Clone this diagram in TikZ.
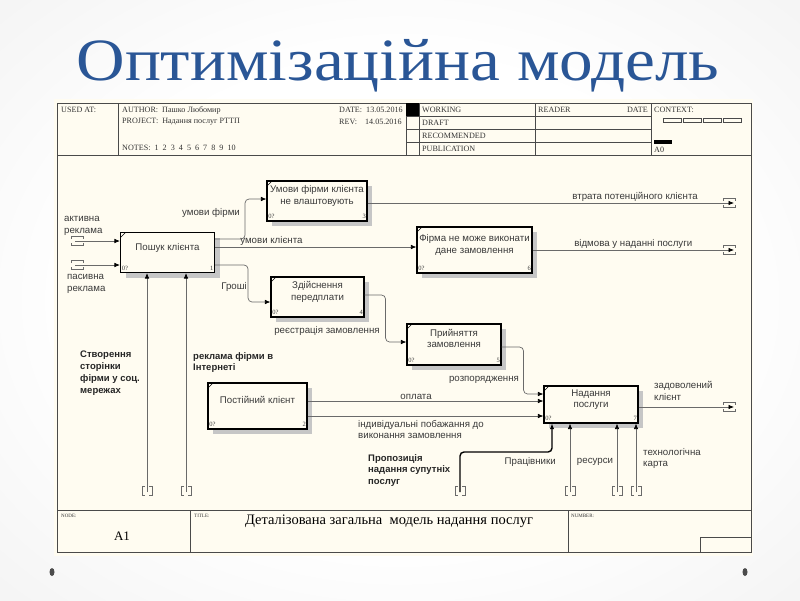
\documentclass[tikz,border=0pt]{standalone}
\usepackage{fontspec}
\setmainfont{Liberation Serif}
\setsansfont{Liberation Sans}
\usetikzlibrary{arrows.meta,shadows}

\definecolor{titleblue}{HTML}{2A5696}
\definecolor{cream}{HTML}{FFFCF1}
\definecolor{ink}{HTML}{3A3A3A}
\definecolor{wire}{HTML}{6A6A6A}
\definecolor{rule}{HTML}{4A4A4A}
\pgfdeclareradialshading{slidebg}{\pgfpoint{0bp}{0bp}}{color(0bp)=(white); color(20bp)=(white); color(50bp)=(gray!16); color(72bp)=(gray!24)}

\begin{document}
\begin{tikzpicture}[
    x=1pt,y=-1pt,
    box/.style={draw=black,line width=1.1pt,fill=cream,align=center,text=ink,
                font=\sffamily\fontsize{9.7}{11.5}\selectfont,inner xsep=0pt,
                text depth=12pt,
                drop shadow={shadow xshift=5pt,shadow yshift=-5pt,fill=gray!45,opacity=1},
                path picture={\draw[line width=0.6pt]
                  ([yshift=-5pt]path picture bounding box.north west) --
                  ([xshift=5pt]path picture bounding box.north west);},
                label={[tag,anchor=south west]south west:0?}},
    num/.style={label={[tag,anchor=south east]south east:#1}},
    tag/.style={font=\fontsize{6.5}{7}\selectfont,text=ink,inner sep=1.6pt,
                text height=4.5pt,text depth=1pt,fill=none,draw=none},
    flow/.style={draw=wire,line width=0.7pt,rounded corners=4pt,
                 -{Latex[length=5.5pt,width=4.5pt,color=black]}},
    heavy/.style={flow,draw=black,line width=1.4pt},
    lbl/.style={font=\sffamily\fontsize{9.7}{11.5}\selectfont,text=ink,inner sep=1pt},
    note/.style={font=\sffamily\bfseries\fontsize{9.5}{11.8}\selectfont,text=black!85,
                 align=left,inner sep=0pt},
    hdr/.style={font=\fontsize{8.1}{9}\selectfont,text=black!80,anchor=west,inner sep=0pt},
    tiny/.style={hdr,font=\fontsize{5}{6}\selectfont},
    frame/.style={draw=rule,line width=0.6pt},
    htun/.pic={\draw[wire,line width=0.6pt]
        (-6pt,-2pt) -- (-6pt,-4.5pt) -- (6pt,-4.5pt) -- (6pt,-2pt)
        (-6pt,2pt) -- (-6pt,4.5pt) -- (6pt,4.5pt) -- (6pt,2pt);},
    vtun/.pic={\draw[wire,line width=0.6pt]
        (-2pt,4.5pt) -- (-5pt,4.5pt) -- (-5pt,-4.5pt) -- (-2pt,-4.5pt)
        (2pt,4.5pt) -- (5pt,4.5pt) -- (5pt,-4.5pt) -- (2pt,-4.5pt);}
]
\useasboundingbox (0,0) rectangle (800,600);
\shade[shading=slidebg] (0,0) rectangle (800,600);

% slide title
\node[font=\fontsize{60}{60}\selectfont,text=titleblue,anchor=base] (heading)
    at (398,80) {\scalebox{1.12}[1]{Оптимізаційна модель}};

% IDEF0 form
\fill[cream] (54,99) rectangle (753,556);
\draw[frame] (57,103) rectangle (751,552);
\draw[frame] (57,155) -- (751,155) (57,510) -- (751,510);
\draw[frame] (118,103) -- (118,155) (406,103) -- (406,155) (419,103) -- (419,155)
    (535,103) -- (535,155) (651,103) -- (651,155);
\draw[frame] (406,116) -- (651,116) (406,129) -- (651,129) (406,142) -- (651,142);
\fill (406,103) rectangle (419,116);
\foreach \i in {0,...,3}
    \draw[frame,line width=0.5pt] (663+20*\i,118) rectangle ++(18,4);
\fill (654,140) rectangle (672,144);
\draw[frame] (190,510) -- (190,552) (568,510) -- (568,552);
\draw[frame] (700,537) rectangle (751,552);

\node[hdr] (usedat) at (61,110) {USED AT:};
\node[hdr] (author) at (122,110) {AUTHOR:\ \ Пашко Любомир};
\node[hdr] (project) at (122,122) {PROJECT:\ \ Надання послуг РТТП};
\node[hdr] (notes) at (122,148) {NOTES:\ \ 1\ \ 2\ \ 3\ \ 4\ \ 5\ \ 6\ \ 7\ \ 8\ \ 9\ \ 10};
\node[hdr] (date) at (339,110) {DATE:\ \ 13.05.2016};
\node[hdr] (rev) at (339,122) {REV:\ \ \ \ 14.05.2016};
\node[hdr] (working) at (422,110) {WORKING};
\node[hdr] (draft) at (422,122.5) {DRAFT};
\node[hdr] (recommended) at (422,135.5) {RECOMMENDED};
\node[hdr] (publication) at (422,148.5) {PUBLICATION};
\node[hdr] (reader) at (538,110) {READER};
\node[hdr,anchor=east] (readerdate) at (648,110) {DATE};
\node[hdr] (context) at (654,110) {CONTEXT:};
\node[hdr] (parent) at (654,150) {A0};
\node[tiny] (nodelbl) at (61,516) {NODE:};
\node[font=\fontsize{13}{15}\selectfont] (nodeid) at (122,536) {A1};
\node[tiny] (titlelbl) at (194,516) {TITLE:};
\node[font=\fontsize{14.5}{16}\selectfont] (title) at (389,521)
    {Деталізована загальна\ \ модель надання послуг};
\node[tiny] (numberlbl) at (571,516) {NUMBER:};

% activities
\node[box,num=1,minimum width=94,minimum height=40] (search) at (167.5,252.5)
    {Пошук клієнта};
\node[box,num=3,minimum width=100,minimum height=40] (terms) at (317,201)
    {Умови фірми клієнта\\не влаштовують};
\node[box,num=4,minimum width=93,minimum height=40] (prepay) at (317.5,297)
    {Здійснення\\передплати};
\node[box,num=6,minimum width=115,minimum height=46] (cannot) at (474.5,250)
    {Фірма не може виконати\\дане замовлення};
\node[box,num=5,minimum width=94,minimum height=41] (accept) at (454,344.5)
    {Прийняття\\замовлення};
\node[box,num=2,minimum width=99,minimum height=46] (regular) at (257.5,406)
    {Постійний клієнт};
\node[box,num=7,minimum width=94,minimum height=37] (service) at (591,404.5)
    {Надання\\послуги};

% tunnel ends
\coordinate (activein) at (75,241);
\coordinate (passivein) at (75,265);
\coordinate (lossout) at (734,203);
\coordinate (refuseout) at (734,250);
\coordinate (doneout) at (734,407);
\coordinate (socialin) at (147,492);
\coordinate (webin) at (186,492);
\coordinate (offerin) at (460,492);
\coordinate (staffin) at (570,492);
\coordinate (resourcein) at (617,492);
\coordinate (mapin) at (636,492);
\pic at (77,241) {htun};
\pic at (77,265) {htun};
\pic at (729,203) {htun};
\pic at (729,250) {htun};
\pic at (729,407) {htun};
\foreach \x in {147,186,460,570,617,636}
    \pic at (\x,491) {vtun};

% inputs
\draw[flow] (activein) -- ([yshift=11.5pt]search.west);
\draw[flow] (passivein) -- ([yshift=-12.5pt]search.west);
\node[lbl,align=left,anchor=west] (lactive) at (63,226) {активна\\реклама};
\node[lbl,align=left,anchor=west] (lpassive) at (66,284) {пасивна\\реклама};

% flows between activities
\draw[flow] ([yshift=13.5pt]search.east) -- ++(30,0) |- ([yshift=2pt]terms.west);
\node[lbl] (lterms) at (211,213) {умови фірми};
\draw[flow] ([yshift=5.5pt]search.east) --
    node[lbl,above,pos=0.28] (lwish) {умови клієнта} ([yshift=3pt]cannot.west);
\draw[flow] ([yshift=-12.5pt]search.east) -- ++(33,0) |- ([yshift=-5pt]prepay.west);
\node[lbl] (lmoney) at (234,287) {Гроші};
\draw[flow] ([yshift=2pt]prepay.east) -- ++(21,0) |- ([yshift=2.5pt]accept.west);
\node[lbl] (lregister) at (327,331) {реєстрація замовлення};
\draw[flow] ([yshift=-2.5pt]accept.east) -- ++(22,0) |- ([yshift=10.5pt]service.west);
\node[lbl] (lorder) at (484,380) {розпорядження};
\draw[flow] ([yshift=5pt]regular.east) --
    node[lbl,above,pos=0.46] (lpay) {оплата} ([yshift=3.5pt]service.west);
\draw[flow] ([yshift=-10pt]regular.east) -- ([yshift=-11.5pt]service.west);
\node[lbl,align=left,anchor=north west] (lwishes) at (357,419)
    {індивідуальні побажання до\\виконання замовлення};

% outputs
\draw[flow] ([yshift=-2pt]terms.east) --
    node[lbl,above,pos=0.73] (lloss) {втрата потенційного клієнта} (lossout);
\draw[flow] (cannot.east) --
    node[lbl,above,pos=0.5] (lrefuse) {відмова у наданні послуги} (refuseout);
\draw[flow] ([yshift=-2.5pt]service.east) -- (doneout);
\node[lbl,align=left,anchor=west] (ldone) at (653,391) {задоволений\\клієнт};

% mechanisms
\draw[flow] (socialin) -- ([xshift=-20.5pt]search.south);
\draw[flow] (webin) -- ([xshift=18.5pt]search.south);
\draw[heavy] (offerin) -- ++(0,-40) -| ([xshift=-39pt]service.south);
\draw[flow] (staffin) -- ([xshift=-21pt]service.south);
\draw[flow] (resourcein) -- ([xshift=26pt]service.south);
\draw[flow] (mapin) -- ([xshift=45pt]service.south);
\node[note,anchor=north west] (lsocial) at (80,351)
    {Створення\\сторінки\\фірми у соц.\\мережах};
\node[note,anchor=north west] (lweb) at (193,352) {реклама фірми в\\Інтернеті};
\node[note,anchor=north west] (loffer) at (368,454)
    {Пропозиція\\надання супутніх\\послуг};
\node[lbl,anchor=east] (lstaff) at (557,462) {Працівники};
\node[lbl] (lresource) at (595,462) {ресурси};
\node[lbl,align=left,anchor=north west] (lmap) at (642,447) {технологічна\\карта};

% slide bullets
\fill[gray!60!black] (52,572) ellipse [x radius=2.5,y radius=4];
\fill[gray!60!black] (745,572) ellipse [x radius=2.5,y radius=4];
\end{tikzpicture}
\end{document}
